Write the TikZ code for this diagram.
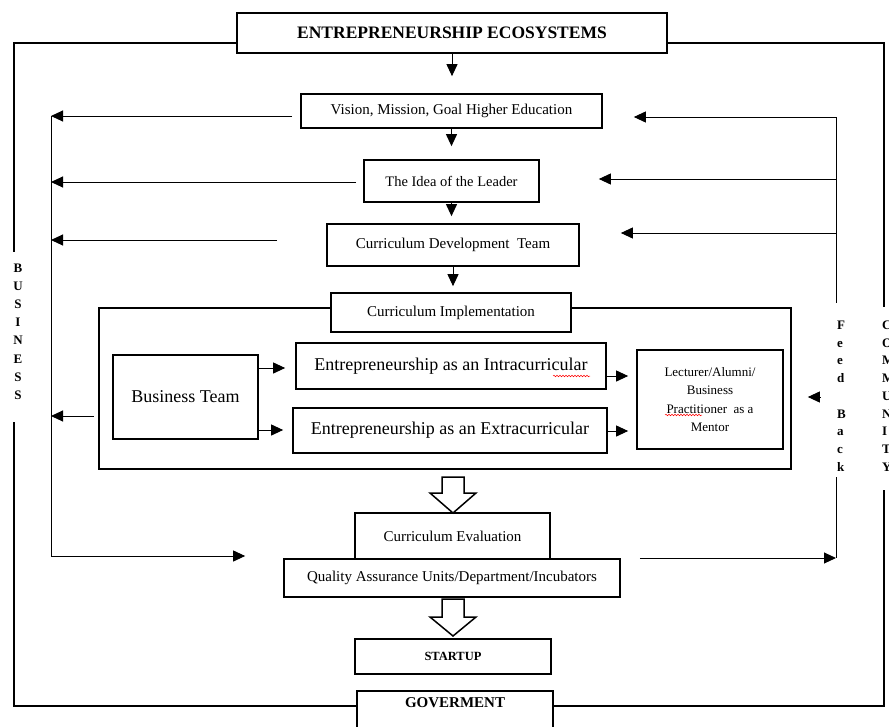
\documentclass[tikz,border=0pt]{standalone}
\usepackage{fontspec}
\setmainfont{Liberation Serif}
\usetikzlibrary{arrows.meta,decorations.pathmorphing}
\newcommand\fsz[2]{\fontsize{#1}{#2}\selectfont}
\begin{document}
\begin{tikzpicture}[x=1pt,y=-1pt,
  box/.style={draw,line width=1.7pt,fill=white,inner sep=0pt,align=center},
  conn/.style={line width=1pt,-{Triangle[length=12pt,width=11pt]}},
  frame/.style={line width=1.8pt},
  link/.style={line width=1pt},
  hollow/.style={draw,line width=1.5pt,fill=white,line join=miter},
  letter/.style={anchor=base west,inner sep=0pt,font=\fsz{13}{15}\bfseries},
  squiggle/.style={red,line width=0.5pt,decorate,decoration={snake,amplitude=0.8pt,segment length=3pt}}
]
\useasboundingbox (0,0) rectangle (889,726);

% container of curriculum implementation
\node[draw,line width=1.7pt,minimum width=692,minimum height=161,inner sep=0pt] (cont) at (445,388.5) {};

% main boxes
\node[box,minimum width=430,minimum height=40,font=\fsz{17.5}{20}\bfseries] (eco) at (452,33) {ENTREPRENEURSHIP ECOSYSTEMS};
\node[box,minimum width=301,minimum height=34,font=\fsz{15}{18}] (vision) at (451.5,111) {Vision, Mission, Goal Higher Education};
\node[box,minimum width=175,minimum height=42,font=\fsz{14.5}{18}] (idea) at (451.5,181) {The Idea of the Leader};
\node[box,minimum width=252,minimum height=42,font=\fsz{15}{18}] (cdt) at (453,245) {Curriculum Development\ \ Team};
\node[box,minimum width=240,minimum height=39,font=\fsz{15}{18}] (ci) at (451,312.5) {Curriculum Implementation};
\node[box,minimum width=145,minimum height=84,font=\fsz{18}{21}] (bteam) at (185.5,397) {Business Team};
\node[box,minimum width=310,minimum height=46,font=\fsz{18}{21}] (intra) at (451,366) {Entrepreneurship as an Intracurricular};
\node[box,minimum width=314,minimum height=45,font=\fsz{18}{21}] (extra) at (450,430.5) {Entrepreneurship as an Extracurricular};
\node[box,minimum width=146,minimum height=99,font=\fsz{13}{18.5}] (mentor) at (710,399.5) {Lecturer/Alumni/\\Business\\Practitioner\ \ as a\\Mentor};
\node[box,minimum width=195,minimum height=46,font=\fsz{15}{18}] (eval) at (452.5,536) {Curriculum Evaluation};
\node[box,minimum width=336,minimum height=38,font=\fsz{15}{18}] (qa) at (452,578) {Quality Assurance Units/Department/Incubators};
\node[box,minimum width=196,minimum height=35,font=\fsz{12.5}{15}\bfseries] (startup) at (453,656.5) {STARTUP};
\node[draw,line width=1.7pt,fill=white,inner sep=0pt,anchor=north,minimum width=196,text height=17pt,text depth=33pt,font=\fsz{15}{18}\bfseries] (gov) at (455,690) {GOVERMENT};

% outer frame
\draw[frame] (eco.west |- 0,43) -- (14,43) -- (14,252);
\draw[frame] (14,422) -- (14,706) -- (gov.west |- 0,706);
\draw[frame] (eco.east |- 0,43) -- (884,43) -- (884,307);
\draw[frame] (884,490) -- (884,706) -- (gov.east |- 0,706);

% central flow
\draw[conn,shorten >=17pt] (eco.south) -- (eco.south |- vision.north);
\draw[conn,shorten >=13pt] (vision.south) -- (vision.south |- idea.north);
\draw[conn,shorten >=7pt] (idea.south) -- (idea.south |- cdt.north);
\draw[conn,shorten >=6pt] (cdt.south) -- (cdt.south |- ci.north);

% side rails
\coordinate (L) at (51,0);
\coordinate (R) at (836,0);
\coordinate (v1) at ([xshift=-8pt,yshift=-5pt]vision.west);
\coordinate (v2) at ([xshift=31pt,yshift=-6pt]vision.east);
\coordinate (i1) at ([xshift=-7pt,yshift=-1pt]idea.west);
\coordinate (i2) at ([xshift=59pt,yshift=2pt]idea.east);
\coordinate (c1) at ([xshift=-49pt,yshift=5pt]cdt.west);
\coordinate (c2) at ([xshift=41pt,yshift=12pt]cdt.east);
\coordinate (k1) at ([xshift=-4pt,yshift=-27.5pt]cont.west);
\coordinate (q1) at ([xshift=-38pt,yshift=22pt]qa.west);
\coordinate (q2) at ([xshift=19pt,yshift=20pt]qa.east);

\draw[link] (v1 -| L) -- (q1 -| L);
\draw[link] (v2 -| R) -- (836,303);
\draw[link] (836,477) -- (q2 -| R);

\draw[conn] (v1) -- (v1 -| L);
\draw[conn] (i1) -- (i1 -| L);
\draw[conn] (c1) -- (c1 -| L);
\draw[conn] (k1) -- (k1 -| L);
\draw[conn] (q1 -| L) -- (q1);
\draw[conn] (v2 -| R) -- (v2);
\draw[conn] (i2 -| R) -- (i2);
\draw[conn] (c2 -| R) -- (c2);
\draw[conn] (q2) -- (q2 -| R);
\draw[conn] ([xshift=37pt,yshift=2.5pt]mentor.east) -- ([xshift=24pt,yshift=2.5pt]mentor.east);

% inside implementation
\coordinate (b1) at ([yshift=29pt]bteam.east);
\coordinate (b2) at ([yshift=-33pt]bteam.east);
\coordinate (m1) at ([yshift=-10pt]intra.east);
\coordinate (m2) at ([yshift=-0.5pt]extra.east);
\draw[conn,shorten >=10pt] (b1) -- (b1 -| intra.west);
\draw[conn,shorten >=9pt] (b2) -- (b2 -| extra.west);
\draw[conn,shorten >=8pt] (m1) -- (m1 -| mentor.west);
\draw[conn,shorten >=8pt] (m2) -- (m2 -| mentor.west);

% hollow arrows
\draw[hollow] (442,477) -- (464,477) -- (464,493) -- (476,493) -- (453,513) -- (430,493) -- (442,493) -- cycle;
\draw[hollow] (442,599) -- (464,599) -- (464,617) -- (476,617) -- (453,636) -- (430,617) -- (442,617) -- cycle;

% spelling squiggles
\draw[squiggle] (553,376) -- (590,376);
\draw[squiggle] (665,415) -- (702,415);

% vertical words
\foreach \l [count=\i from 0] in {B,U,S,I,N,E,S,S}
  \node[letter,anchor=base] (bs\i) at (18,{272.3+\i*18.14}) {\l};
\foreach \l [count=\i from 0] in {F,e,e,d,{},B,a,c,k}
  \node[letter] (fb\i) at (837,{329.3+\i*17.75}) {\l};
\foreach \l [count=\i from 0] in {C,O,M,M,U,N,I,T,Y}
  \node[letter] (cm\i) at (882,{329.3+\i*17.75}) {\l};
\end{tikzpicture}
\end{document}
